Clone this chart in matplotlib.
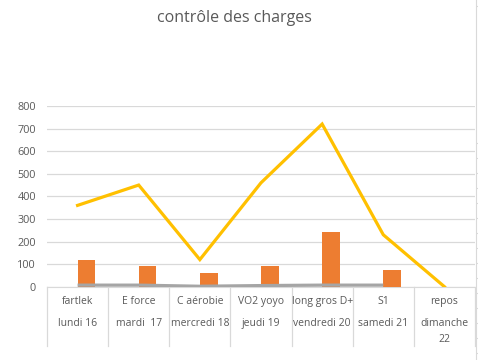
import numpy as np
import matplotlib
matplotlib.use("Agg")
import matplotlib.pyplot as plt
import matplotlib.transforms as mtransforms

seances = ["fartlek", "E force", "C aérobie", "VO2 yoyo", "long gros D+", "S1", "repos"]
jours = ["lundi 16", "mardi  17", "mercredi 18", "jeudi 19", "vendredi 20", "samedi 21", "dimanche\n22"]
charge = [360, 450, 120, 460, 720, 230, 0]
duree = [120, 90, 60, 90, 240, 75, 0]
rpe = [7, 7, 2, 5, 7, 7]

plt.rcParams["font.family"] = ["Open Sans", "DejaVu Sans"]
text_col = "#595959"
grid_col = "#d9d9d9"

fig = plt.figure(figsize=(4.78, 3.6), dpi=100)
ax = fig.add_axes([47 / 478, 73.3 / 360, 428 / 478, 180.7 / 360])

x = np.arange(len(seances))
# bar sits right of the category centre (empty first series in the cluster)
ax.bar(x + 0.145, duree, width=0.29, color="#ED7D31", zorder=3)
ax.plot(x[:len(rpe)], rpe, color="#A5A5A5", lw=2.3, zorder=4, solid_capstyle="butt")
ax.plot(x, charge, color="#FFC000", lw=2.3, zorder=5, solid_joinstyle="miter")

ax.set_xlim(-0.5, 6.5)
ax.set_ylim(0, 800)
ax.set_yticks(range(0, 801, 100))
ax.yaxis.grid(True, color=grid_col, lw=0.9)
ax.set_axisbelow(True)
ax.tick_params(axis="y", length=0, labelsize=7.8, labelcolor=text_col, pad=8)
ax.set_xticks([])
for s in ["top", "right", "left"]:
    ax.spines[s].set_visible(False)
ax.spines["bottom"].set_color(grid_col)

# category table under the axis
trans = mtransforms.blended_transform_factory(ax.transData, ax.transAxes)
for b in np.arange(-0.5, 7.0, 1.0):
    ax.plot([b, b], [0, -0.33], transform=trans, color=grid_col, lw=0.9, clip_on=False)
for i in x:
    ax.text(i, -0.08, seances[i], transform=trans, ha="center", va="center",
            fontsize=7.5, color=text_col)
    for k, part in enumerate(jours[i].split("\n")):
        ax.text(i, -0.205 - 0.085 * k, part, transform=trans, ha="center", va="center",
                fontsize=7.5, color=text_col)

# cut-off secondary axis on the right edge (full figure height)
edge = fig.add_axes([0.5, 0, 475.7 / 478 - 0.5, 1])
edge.patch.set_visible(False)
edge.set_ylim(0, 360)
for s in ["top", "left", "bottom"]:
    edge.spines[s].set_visible(False)
edge.spines["right"].set_color(grid_col)
edge.set_xticks([])
edge.yaxis.tick_right()
edge.set_yticks([354] + list(np.arange(217, 0, -15)))
edge.set_yticklabels([])
edge.tick_params(axis="y", length=3, color=grid_col)

fig.text(234 / 478, 1 - 18 / 360, "contrôle des charges", ha="center", va="center",
         fontsize=11.5, color=text_col)

fig.savefig("out.png", dpi=100)
